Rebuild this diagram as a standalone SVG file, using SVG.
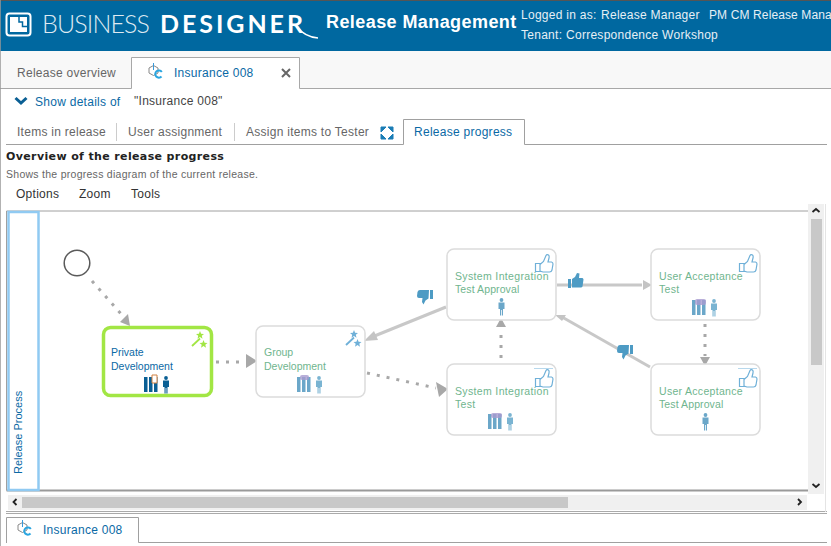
<svg xmlns="http://www.w3.org/2000/svg" width="831" height="546" viewBox="0 0 831 546">
<style>
text{font-family:"Liberation Sans",Arial,sans-serif;font-size:12px;letter-spacing:.27px}
.tab{fill:#666}
.blue{fill:#0a69a5}
.wh{fill:#e6eff5}
.node{fill:#fff;stroke:#dcdcdc;stroke-width:1.5}
.lbl{fill:#6fb58e;font-size:10.500px;letter-spacing:.3px}
.solid{fill:none;stroke:#c8c8c8;stroke-width:3}
.dot{fill:none;stroke:#a8a8a8;stroke-width:3;stroke-dasharray:3 7}
.head{fill:#a8a8a8}
.headl{fill:#c4c4c4}
.line{stroke:#a0a0a0;fill:none}
</style>
<defs>
<g id="thumb"><path d="M-8.500 7.500h4.500v8h-4.500z M-4 8.500l3.500-3 2.500-6q1-1.500 2.500-.5 1 1 .5 3l-1 4h3.500q1.500.5 1.500 2l-1 6q-.5 2-2.500 2H-1l-3-1z" fill="#fff" stroke="#6fb0d8" stroke-width="1.200"/></g>
<g id="person"><circle cx="0" cy="-6" r="1.900"/><path d="M-3-3.500h6v6.500h-1.500v6.500h-1.100v-5.500h-.8v5.500h-1.100v-6.500h-1.500z"/></g>
<g id="books"><path d="M0 0h3.500v15H0zM5 0h3.500v15H5zM10 0h3.500v15H10z"/></g>
<path id="star" d="M0-4l1.100 2.700 2.900.2-2.200 1.900.7 2.900-2.500-1.600-2.500 1.600.7-2.900-2.200-1.900 2.900-.2z"/>
<g id="wand"><path d="M0 0l8-7.500" fill="none" stroke-width="1.800" stroke="currentColor"/><use href="#star" x="8" y="-11" fill="currentColor"/><use href="#star" x="11.500" y="-2" fill="currentColor"/></g>
<g id="release"><path d="M0 3l4.500-2.500 4.500 2.500v5l-4.500 2.500-4.500-2.500z" fill="none" stroke="#888" stroke-width="1"/><path d="M4.500-2v7" stroke="#3a9ad9" stroke-width="1"/><path d="M12.500 11.500a3.600 3.600 0 1 1 .3-4.500" fill="none" stroke="#2aa5e0" stroke-width="2"/></g>
</defs>

<rect width="831" height="546" fill="#fff"/>
<rect width="831" height="51" fill="#0068a0"/>
<rect x="0" y="0" width="831" height="1" fill="#555"/>
<g id="logo">
<rect x="6.500" y="13.500" width="24" height="22" rx="3" fill="none" stroke="#fff" stroke-width="2"/>
<rect x="10" y="17" width="17" height="15" fill="#fff"/>
<path d="M19 16.500V22H22.500V26.500H27.500" fill="none" stroke="#0068a0" stroke-width="1.500"/>
<text x="42" y="33" style="font-family:Lato,sans-serif;font-weight:300;font-size:25px;letter-spacing:0" fill="#dfeaf2" textLength="108">BUSINESS</text>
<text x="160" y="33" style="font-family:Lato,sans-serif;font-weight:700;font-size:25px;letter-spacing:0" fill="#fff" textLength="143">DESIGNER</text>
<path d="M297 27q8 10 21 11" fill="none" stroke="#fff" stroke-width="1.500"/>
</g>
<text x="326" y="28" style="font-size:18px;font-weight:700;letter-spacing:.42px" fill="#fff">Release Management</text>
<text x="521" y="19" class="wh">Logged in as:</text>
<text x="601" y="19" class="wh">Release Manager</text>
<text x="709" y="19" class="wh" style="letter-spacing:.12px">PM CM Release Mana</text>
<text x="521" y="39" class="wh">Tenant:</text>
<text x="566" y="39" class="wh">Correspondence Workshop</text>

<rect y="51" width="831" height="38" fill="#f8f8f8"/>
<path d="M0 88.500H131.500V57.500H299.500V88.500H831" class="line" style="stroke:#a8a8a8"/>
<path d="M132 89V58H299V89z" fill="#fff"/>
<text x="17" y="77" class="tab">Release overview</text>
<use href="#release" x="149" y="65"/>
<text x="174" y="77" class="blue">Insurance 008</text>
<path d="M282 69l8 8M290 69l-8 8" stroke="#666" stroke-width="2"/>
<path d="M15.500 98l5.500 5 5.500-5" fill="none" stroke="#0a5f94" stroke-width="3"/>
<text x="35" y="106" class="blue">Show details of</text>
<text x="134" y="105" fill="#444">"Insurance 008"</text>

<path d="M6 144.500H403.500V119.500H524.500V144.500H827" class="line"/>
<text x="17" y="136" class="tab">Items in release</text>
<path d="M116.500 123v18M234.500 123v18" stroke="#ccc"/>
<text x="128" y="136" class="tab">User assignment</text>
<text x="246" y="136" class="tab">Assign items to Tester</text>
<path d="M381 127h5l-5 5zM393 127v5l-5-5zM381 139v-5l5 5zM393 139h-5l5-5z" fill="#1a7db5" stroke="#1a7db5"/>
<text x="414" y="136" class="blue">Release progress</text>
<text x="6" y="160" style="font-family:'DejaVu Sans',sans-serif;font-size:11px;font-weight:700;letter-spacing:.37px" fill="#222">Overview of the release progress</text>
<text x="6" y="178" style="font-size:10.500px" fill="#666">Shows the progress diagram of the current release.</text>
<text x="16" y="198" fill="#333">Options</text>
<text x="79" y="198" fill="#333">Zoom</text>
<text x="131" y="198" fill="#333">Tools</text>

<path d="M6.500 490.500V211H808" class="line"/>
<path d="M6.500 490.500H808" stroke="#9a9a9a" stroke-width="2" fill="none"/>
<rect x="8.500" y="212" width="30" height="278" fill="#fff" stroke="#90caf2" stroke-width="2.500"/>
<text transform="translate(22 474) rotate(-90)" x="0" y="0" class="blue" style="font-size:11px;letter-spacing:0">Release Process</text>

<g id="connectors">
<path class="dot" d="M92 281L122 315"/><path class="head" d="M130 326L120 322 128 314z"/>
<path class="dot" d="M216 362H245"/><path class="head" d="M257 361L246 354V368z"/>
<path class="dot" d="M367 373L436 388"/><path class="head" d="M448 389L436 382 438 392 439 397z"/>
<path class="dot" d="M501 358V329"/><path class="head" d="M501 318L496 327H506z"/>
<path class="dot" d="M705 324V356"/><path class="head" d="M705 366L700 357H710z"/>
<path class="solid" d="M446 307L372 337"/><path class="headl" d="M364 341L374 331 378 340z"/>
<path class="solid" d="M557 285H642"/><path class="headl" d="M652 285L643 280V290z"/>
<path class="solid" d="M650 367L562 317"/><path class="headl" d="M555 315L566 315 562 321z"/>
</g>

<g id="start"><circle cx="77" cy="263" r="12.800" fill="#fff" stroke="#5a5a5a" stroke-width="1.500"/></g>

<g id="node-private">
<rect x="103.500" y="327.500" width="108" height="68" rx="7" fill="#fff" stroke="#a2e644" stroke-width="3.500"/>
<text x="111" y="356" fill="#0a69a5" style="font-size:10.500px;letter-spacing:0">Private</text>
<text x="111" y="370" fill="#0a69a5" style="font-size:10.500px;letter-spacing:0">Development</text>
<use href="#wand" x="192" y="346" color="#a2e644"/>
<use href="#books" x="144" y="377" fill="#0a5f94"/>
<path d="M152 375h5v8h-5z" fill="#fff" stroke="#d08040"/>
<use href="#person" x="166" y="384" fill="#0a5f94"/>
</g>
<g id="node-group">
<rect x="256" y="326" width="109" height="71" rx="7" class="node"/>
<text x="264" y="356" class="lbl" style="letter-spacing:0">Group</text>
<text x="264" y="370" class="lbl" style="letter-spacing:0">Development</text>
<use href="#wand" x="346" y="345" color="#6fb0d8"/>
<use href="#books" x="297" y="377" fill="#6ba7c9"/>
<rect x="300" y="375" width="9" height="5" rx="2" fill="#a79bcf" opacity=".8"/>
<use href="#person" x="319" y="384" fill="#7ab4d2"/>
</g>
<g id="node-sit-approval">
<rect x="447" y="249" width="109" height="71" rx="7" class="node"/>
<text x="455" y="280" class="lbl" style="letter-spacing:.35px">System Integration</text>
<text x="455" y="293" class="lbl" style="letter-spacing:.1px">Test Approval</text>
<use href="#thumb" x="544" y="256"/>
<use href="#person" x="501.500" y="306" fill="#6ba7c9"/>
</g>
<g id="node-sit">
<rect x="447" y="364" width="109" height="71" rx="7" class="node"/>
<text x="455" y="395" class="lbl" style="letter-spacing:.35px">System Integration</text>
<text x="455" y="408" class="lbl">Test</text>
<path d="M534 368.500h19" stroke="#b8d8ec"/>
<use href="#thumb" x="544" y="371"/>
<use href="#books" x="488" y="414" fill="#6ba7c9"/>
<rect x="491" y="413" width="11" height="5" rx="2" fill="#a79bcf" opacity=".8"/>
<use href="#person" x="510" y="421" fill="#7ab4d2"/>
</g>
<g id="node-uat">
<rect x="651" y="249" width="109" height="71" rx="7" class="node"/>
<text x="659" y="280" class="lbl">User Acceptance</text>
<text x="659" y="293" class="lbl">Test</text>
<use href="#thumb" x="748" y="256"/>
<use href="#books" x="692" y="300" fill="#6ba7c9"/>
<rect x="695" y="299" width="11" height="6" rx="2" fill="#a79bcf" opacity=".8"/>
<use href="#person" x="714" y="307" fill="#7ab4d2"/>
</g>
<g id="node-uat-approval">
<rect x="651" y="364" width="109" height="71" rx="7" class="node"/>
<text x="659" y="395" class="lbl">User Acceptance</text>
<text x="659" y="408" class="lbl" style="letter-spacing:.1px">Test Approval</text>
<path d="M738 368.500h19" stroke="#b8d8ec"/>
<use href="#thumb" x="748" y="371"/>
<use href="#person" x="705.500" y="421" fill="#6ba7c9"/>
</g>

<g id="thumbs-on-connectors" fill="#4d9bc4">
<path d="M568 279h3v9h-3zM572 279l3-2 2-4 2.500 .5-.5 4.500h3.500q1 .5 1 1.500l-1 7q-.5 1-1.500 1H572z"/>
<path d="M433 290h-3v9h3zM429 290h-9q-2 0-2.500 2l-.5 4q0 2 2 2h3.500l-.5 4 1.500 2.500 2-4 3-2z"/>
<path d="M633 345h-3v9h3zM629 345h-9q-2 0-2.500 2l-.5 4q0 2 2 2h3.500l-.5 4 1.500 2.500 2-4 3-2z"/>
</g>

<g id="scrollbars">
<rect x="808" y="204" width="16" height="290" fill="#f0f0f0"/>
<rect x="811" y="219" width="11" height="146" fill="#c8c8c8"/>
<path d="M812.500 212l3.500-3 3.500 3" fill="none" stroke="#222" stroke-width="1.800"/>
<path d="M812.500 484l3.500 3 3.500-3" fill="none" stroke="#222" stroke-width="1.800"/>
<rect x="8" y="495" width="799" height="15" fill="#f0f0f0"/>
<rect x="22" y="497" width="546" height="11" fill="#c8c8c8"/>
<path d="M16.500 499l-3 3 3 3" fill="none" stroke="#222" stroke-width="1.800"/>
<path d="M798 499l3 3-3 3" fill="none" stroke="#222" stroke-width="1.800"/>
<path d="M6 511.500H827M6 513.500H827" stroke="#aaa" fill="none"/>
<path d="M825.500 204V512" stroke="#e4e4e4" fill="none"/>
</g>

<path d="M0 0V546" stroke="#999" stroke-width="1.500"/>
<path d="M6.500 543V517.500H138.500V542.500H827" class="line"/>
<use href="#release" x="18" y="522"/>
<text x="43" y="534" class="blue">Insurance 008</text>
</svg>
